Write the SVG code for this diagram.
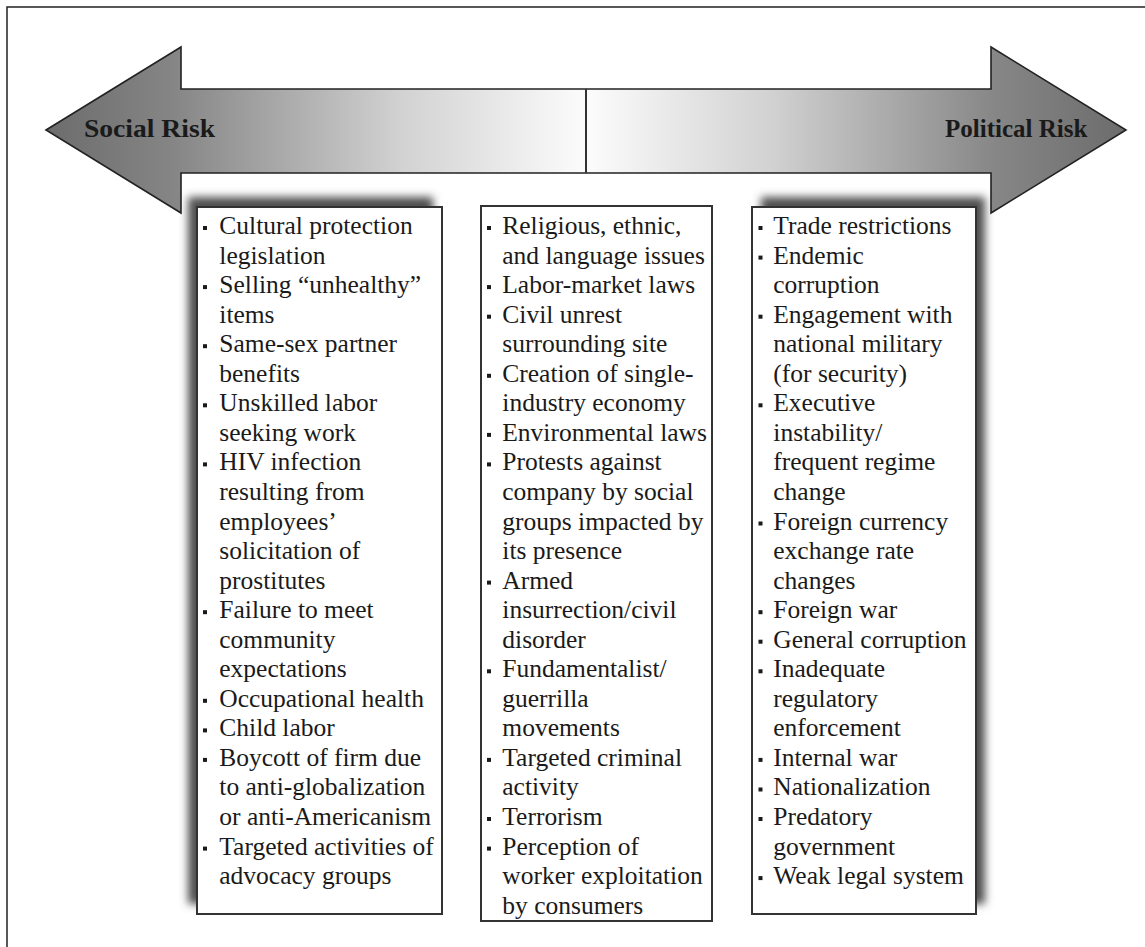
<svg xmlns="http://www.w3.org/2000/svg" xmlns:xlink="http://www.w3.org/1999/xlink" width="1145" height="947" viewBox="0 0 1145 947">
<style>
.t{font-family:"Liberation Serif","Times New Roman",serif;font-size:25.5px;fill:#1a1a1a}
.h{font-family:"Liberation Serif","Times New Roman",serif;font-size:25px;font-weight:bold;fill:#1a1a1a}
.box{fill:#fff;stroke:#333;stroke-width:2}
.sh{fill:#505050;filter:url(#blur)}
.b{fill:#1a1a1a}
</style>
<defs>
<linearGradient id="g" x1="46" y1="0" x2="1126" y2="0" gradientUnits="userSpaceOnUse">
<stop offset="0" stop-color="#6c6c6c"/>
<stop offset="0.12" stop-color="#868686"/>
<stop offset="0.33" stop-color="#d2d2d2"/>
<stop offset="0.5" stop-color="#fcfcfc"/>
<stop offset="0.67" stop-color="#d2d2d2"/>
<stop offset="0.88" stop-color="#868686"/>
<stop offset="1" stop-color="#6c6c6c"/>
</linearGradient>
<filter id="blur" x="-20%" y="-20%" width="140%" height="140%"><feGaussianBlur stdDeviation="4"/></filter>
<rect id="bul" width="4" height="4"/>
</defs>
<rect x="7" y="7" width="1160" height="960" fill="#fff" stroke="#222" stroke-width="1.5"/>
<g id="arrow">
<path d="M46,130 L181,47 L181,89 L991,89 L991,47 L1126,130 L991,213 L991,173 L181,173 L181,213 Z" fill="url(#g)" stroke="#222" stroke-width="1.6" stroke-linejoin="miter"/>
<line x1="586" y1="89" x2="586" y2="173" stroke="#333" stroke-width="2"/>
<text class="h" x="84" y="137" textLength="131" lengthAdjust="spacingAndGlyphs">Social Risk</text>
<text class="h" x="945" y="137">Political Risk</text>
</g>
<g id="social">
<rect class="sh" x="188" y="197" width="245" height="707"/>
<rect class="box" x="197" y="207" width="245" height="707"/>
<g class="b">
<use xlink:href="#bul" x="203" y="226"/><use xlink:href="#bul" x="203" y="285.1"/><use xlink:href="#bul" x="203" y="344.2"/><use xlink:href="#bul" x="203" y="403.3"/><use xlink:href="#bul" x="203" y="462.4"/><use xlink:href="#bul" x="203" y="610.2"/><use xlink:href="#bul" x="203" y="698.8"/><use xlink:href="#bul" x="203" y="728.4"/><use xlink:href="#bul" x="203" y="757.9"/><use xlink:href="#bul" x="203" y="846.6"/>
</g>
<text class="t">
<tspan x="219.3" y="234">Cultural protection</tspan>
<tspan x="219.3" y="263.55">legislation</tspan>
<tspan x="219.3" y="293.1">Selling “unhealthy”</tspan>
<tspan x="219.3" y="322.65">items</tspan>
<tspan x="219.3" y="352.2">Same-sex partner</tspan>
<tspan x="219.3" y="381.75">benefits</tspan>
<tspan x="219.3" y="411.3">Unskilled labor</tspan>
<tspan x="219.3" y="440.85">seeking work</tspan>
<tspan x="219.3" y="470.4">HIV infection</tspan>
<tspan x="219.3" y="499.95">resulting from</tspan>
<tspan x="219.3" y="529.5">employees’</tspan>
<tspan x="219.3" y="559.05">solicitation of</tspan>
<tspan x="219.3" y="588.6">prostitutes</tspan>
<tspan x="219.3" y="618.15">Failure to meet</tspan>
<tspan x="219.3" y="647.7">community</tspan>
<tspan x="219.3" y="677.25">expectations</tspan>
<tspan x="219.3" y="706.8">Occupational health</tspan>
<tspan x="219.3" y="736.35">Child labor</tspan>
<tspan x="219.3" y="765.9">Boycott of firm due</tspan>
<tspan x="219.3" y="795.45">to anti-globalization</tspan>
<tspan x="219.3" y="825">or anti-Americanism</tspan>
<tspan x="219.3" y="854.55">Targeted activities of</tspan>
<tspan x="219.3" y="884.1">advocacy groups</tspan>
</text>
</g>
<g id="middle">
<rect class="box" x="481" y="206" width="231" height="715"/>
<g class="b">
<use xlink:href="#bul" x="487" y="226"/><use xlink:href="#bul" x="487" y="285.1"/><use xlink:href="#bul" x="487" y="314.7"/><use xlink:href="#bul" x="487" y="373.8"/><use xlink:href="#bul" x="487" y="432.9"/><use xlink:href="#bul" x="487" y="462.4"/><use xlink:href="#bul" x="487" y="580.6"/><use xlink:href="#bul" x="487" y="669.3"/><use xlink:href="#bul" x="487" y="757.9"/><use xlink:href="#bul" x="487" y="817"/><use xlink:href="#bul" x="487" y="846.6"/>
</g>
<text class="t">
<tspan x="502.3" y="234">Religious, ethnic,</tspan>
<tspan x="502.3" y="263.55">and language issues</tspan>
<tspan x="502.3" y="293.1">Labor-market laws</tspan>
<tspan x="502.3" y="322.65">Civil unrest</tspan>
<tspan x="502.3" y="352.2">surrounding site</tspan>
<tspan x="502.3" y="381.75">Creation of single-</tspan>
<tspan x="502.3" y="411.3">industry economy</tspan>
<tspan x="502.3" y="440.85">Environmental laws</tspan>
<tspan x="502.3" y="470.4">Protests against</tspan>
<tspan x="502.3" y="499.95">company by social</tspan>
<tspan x="502.3" y="529.5">groups impacted by</tspan>
<tspan x="502.3" y="559.05">its presence</tspan>
<tspan x="502.3" y="588.6">Armed</tspan>
<tspan x="502.3" y="618.15">insurrection/civil</tspan>
<tspan x="502.3" y="647.7">disorder</tspan>
<tspan x="502.3" y="677.25">Fundamentalist/</tspan>
<tspan x="502.3" y="706.8">guerrilla</tspan>
<tspan x="502.3" y="736.35">movements</tspan>
<tspan x="502.3" y="765.9">Targeted criminal</tspan>
<tspan x="502.3" y="795.45">activity</tspan>
<tspan x="502.3" y="825">Terrorism</tspan>
<tspan x="502.3" y="854.55">Perception of</tspan>
<tspan x="502.3" y="884.1">worker exploitation</tspan>
<tspan x="502.3" y="913.65">by consumers</tspan>
</text>
</g>
<g id="political">
<rect class="sh" x="761" y="197" width="224" height="707"/>
<rect class="box" x="752" y="207" width="224" height="707"/>
<g class="b">
<use xlink:href="#bul" x="758.5" y="226"/><use xlink:href="#bul" x="758.5" y="255.6"/><use xlink:href="#bul" x="758.5" y="314.7"/><use xlink:href="#bul" x="758.5" y="403.3"/><use xlink:href="#bul" x="758.5" y="521.5"/><use xlink:href="#bul" x="758.5" y="610.2"/><use xlink:href="#bul" x="758.5" y="639.7"/><use xlink:href="#bul" x="758.5" y="669.3"/><use xlink:href="#bul" x="758.5" y="757.9"/><use xlink:href="#bul" x="758.5" y="787.5"/><use xlink:href="#bul" x="758.5" y="817"/><use xlink:href="#bul" x="758.5" y="876.1"/>
</g>
<text class="t">
<tspan x="773.3" y="234">Trade restrictions</tspan>
<tspan x="773.3" y="263.55">Endemic</tspan>
<tspan x="773.3" y="293.1">corruption</tspan>
<tspan x="773.3" y="322.65">Engagement with</tspan>
<tspan x="773.3" y="352.2">national military</tspan>
<tspan x="773.3" y="381.75">(for security)</tspan>
<tspan x="773.3" y="411.3">Executive</tspan>
<tspan x="773.3" y="440.85">instability/</tspan>
<tspan x="773.3" y="470.4">frequent regime</tspan>
<tspan x="773.3" y="499.95">change</tspan>
<tspan x="773.3" y="529.5">Foreign currency</tspan>
<tspan x="773.3" y="559.05">exchange rate</tspan>
<tspan x="773.3" y="588.6">changes</tspan>
<tspan x="773.3" y="618.15">Foreign war</tspan>
<tspan x="773.3" y="647.7">General corruption</tspan>
<tspan x="773.3" y="677.25">Inadequate</tspan>
<tspan x="773.3" y="706.8">regulatory</tspan>
<tspan x="773.3" y="736.35">enforcement</tspan>
<tspan x="773.3" y="765.9">Internal war</tspan>
<tspan x="773.3" y="795.45">Nationalization</tspan>
<tspan x="773.3" y="825">Predatory</tspan>
<tspan x="773.3" y="854.55">government</tspan>
<tspan x="773.3" y="884.1">Weak legal system</tspan>
</text>
</g>
<g id="connectors"/>
</svg>
